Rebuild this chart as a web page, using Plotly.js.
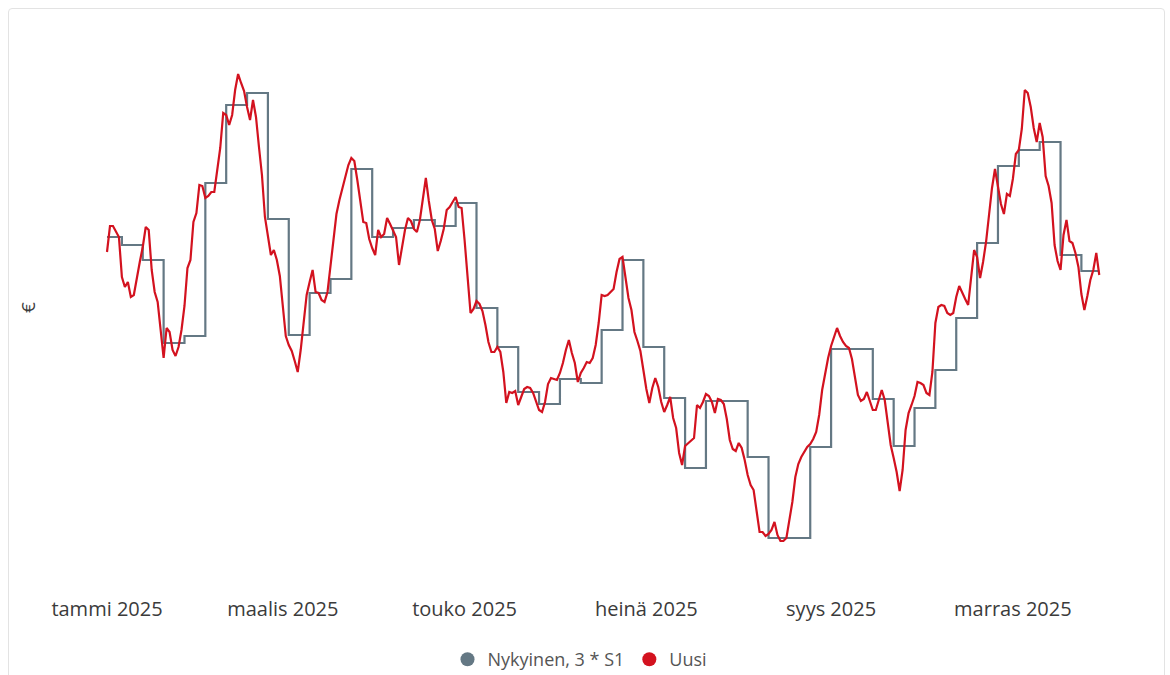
<!DOCTYPE html>
<html>
<head>
<meta charset="utf-8">
<script src="https://cdn.plot.ly/plotly-3.0.1.min.js"></script>
<style>
  html, body { margin: 0; padding: 0; background: #ffffff; }
  #wrap { position: relative; width: 1170px; height: 675px; overflow: hidden; }
  #frame { position: absolute; left: 8px; top: 8px; width: 1157px; height: 700px;
           border: 1px solid #e3e3e3; border-radius: 4px; box-sizing: border-box; }
  #chart { position: absolute; left: 0; top: 0; width: 1170px; height: 675px; }
</style>
</head>
<body>
<div id="wrap">
  <div id="frame"></div>
  <div id="chart"></div>
</div>
<script>
// ---- Data (€ values, daily, 2025) ----
const firstDay = '2025-01-01';

// "Uusi" – daily values, one small array per month
const uusiJan = [3.48,3.74,3.74,3.68,3.63,3.23,3.13,3.18,3.03,3.05,3.23,3.38,3.53,3.73,3.70,3.30,3.08,2.98,2.70,2.42,2.72,2.68,2.50,2.44,2.53,2.70,2.94,3.32,3.40,3.78,3.87];
const uusiFeb = [4.15,4.14,4.02,4.04,4.08,4.08,4.30,4.52,4.87,4.85,4.75,4.85,5.10,5.26,5.17,5.09,4.93,4.80,5.00,4.83,4.53,4.25,3.83,3.63,3.45,3.50,3.40,3.24];
const uusiMar = [2.95,2.64,2.55,2.49,2.39,2.28,2.50,2.78,3.05,3.18,3.30,3.08,3.07,3.00,2.98,3.08,3.35,3.61,3.86,4.00,4.12,4.24,4.35,4.42,4.39,4.20,3.98,3.78,3.77,3.61,3.52];
const uusiApr = [3.45,3.70,3.63,3.66,3.82,3.76,3.70,3.63,3.35,3.54,3.70,3.82,3.79,3.71,3.68,3.80,4.00,4.22,3.99,3.80,3.71,3.49,3.59,3.71,3.90,3.93,3.98,4.03,3.93,3.92];
const uusiMay = [3.60,3.21,2.87,2.91,2.99,2.96,2.89,2.75,2.58,2.48,2.48,2.53,2.48,2.28,1.97,2.08,2.07,2.09,1.95,2.03,2.11,2.13,2.12,2.07,1.98,1.90,1.88,1.98,2.16,2.22,2.21];
const uusiJun = [2.20,2.27,2.37,2.50,2.60,2.47,2.37,2.18,2.27,2.32,2.38,2.37,2.42,2.55,2.77,3.05,3.04,3.05,3.08,3.11,3.28,3.41,3.43,3.23,3.02,2.90,2.68,2.59,2.49,2.30];
const uusiJul = [2.11,1.97,2.12,2.22,2.13,1.98,1.88,1.95,2.03,1.82,1.72,1.47,1.35,1.54,1.57,1.60,1.62,1.95,1.92,1.98,2.06,2.04,1.98,1.87,2.01,2.00,1.96,1.81,1.60,1.51,1.49];
const uusiAug = [1.57,1.52,1.40,1.25,1.15,1.10,0.89,0.68,0.68,0.64,0.66,0.70,0.78,0.65,0.59,0.59,0.62,0.80,0.98,1.23,1.36,1.43,1.48,1.53,1.56,1.61,1.68,1.85,2.10,2.27,2.42];
const uusiSep = [2.54,2.62,2.72,2.64,2.58,2.54,2.52,2.41,2.25,2.05,1.99,2.01,2.08,2.00,1.90,1.90,2.00,2.10,2.00,1.77,1.55,1.42,1.28,1.09,1.30,1.70,1.87,1.95,2.04,2.18];
const uusiOct = [2.17,2.15,2.07,2.05,2.28,2.77,2.93,2.95,2.94,2.87,2.85,2.87,3.03,3.14,3.07,3.01,2.95,3.20,3.50,3.43,3.22,3.38,3.58,3.85,4.12,4.31,4.15,3.96,3.86,4.06,4.04];
const uusiNov = [4.21,4.46,4.50,4.71,5.10,5.07,4.93,4.72,4.58,4.77,4.63,4.24,4.14,3.97,3.55,3.39,3.30,3.65,3.80,3.59,3.57,3.47,3.33,3.06,2.90,3.04,3.20,3.30,3.47,3.25];

// "Nykyinen, 3 * S1" – weekly values (week start dates)
const weekStarts = ['2025-01-01','2025-01-06','2025-01-13','2025-01-20','2025-01-27',
  '2025-02-03','2025-02-10','2025-02-17','2025-02-24',
  '2025-03-03','2025-03-10','2025-03-17','2025-03-24','2025-03-31',
  '2025-04-07','2025-04-14','2025-04-21','2025-04-28',
  '2025-05-05','2025-05-12','2025-05-19','2025-05-26',
  '2025-06-02','2025-06-09','2025-06-16','2025-06-23','2025-06-30',
  '2025-07-07','2025-07-14','2025-07-21','2025-07-28',
  '2025-08-04','2025-08-11','2025-08-18','2025-08-25',
  '2025-09-01','2025-09-08','2025-09-15','2025-09-22','2025-09-29',
  '2025-10-06','2025-10-13','2025-10-20','2025-10-27',
  '2025-11-03','2025-11-10','2025-11-17','2025-11-24'];
const nykyinenWeekly = [3.63,3.55,3.40,2.57,2.64,
  4.17,4.95,5.07,3.81,
  2.65,3.07,3.21,4.31,3.63,
  3.72,3.80,3.74,3.97,
  2.92,2.53,2.08,1.96,
  2.21,2.17,2.70,3.40,2.53,
  2.02,1.32,1.99,1.99,
  1.43,0.62,0.62,1.53,
  2.51,2.51,2.01,1.54,1.92,
  2.30,2.82,3.57,4.34,
  4.50,4.58,3.45,3.29];

// Axis ticks
const tickDates = ['2025-01-01','2025-03-01','2025-05-01','2025-07-01','2025-09-01','2025-11-01'];
const tickLabels = ['tammi 2025','maalis 2025','touko 2025','heinä 2025','syys 2025','marras 2025'];

const seriesNames = ['Nykyinen, 3 * S1', 'Uusi'];
const seriesColors = ['#647884', '#d3121f'];

// ---- Build traces ----
const DAY = 86400000;
const t0 = Date.parse(firstDay + 'T00:00:00Z');
const uusi = [].concat(uusiJan, uusiFeb, uusiMar, uusiApr, uusiMay, uusiJun,
                       uusiJul, uusiAug, uusiSep, uusiOct, uusiNov);
const days = uusi.map((_, i) => new Date(t0 + i * DAY).toISOString().slice(0, 10));
const nykyinen = days.map(d => {
  let v = null;
  for (let k = 0; k < weekStarts.length; k++) { if (weekStarts[k] <= d) v = nykyinenWeekly[k]; }
  return v;
});

function fmt(ms) { return new Date(ms).toISOString().replace('T', ' ').slice(0, 19); }

const traces = [
  { x: days, y: nykyinen, type: 'scatter', mode: 'lines', name: seriesNames[0],
    line: { color: seriesColors[0], width: 2.2, shape: 'hv' }, showlegend: false, hoverinfo: 'x+y' },
  { x: days, y: uusi, type: 'scatter', mode: 'lines', name: seriesNames[1],
    line: { color: seriesColors[1], width: 2.2 }, showlegend: false, hoverinfo: 'x+y' },
  { x: [null], y: [null], type: 'scatter', mode: 'markers', name: seriesNames[0],
    marker: { color: seriesColors[0], size: 14, symbol: 'circle' }, showlegend: true },
  { x: [null], y: [null], type: 'scatter', mode: 'markers', name: seriesNames[1],
    marker: { color: seriesColors[1], size: 14, symbol: 'circle' }, showlegend: true }
];

const layout = {
  width: 1170, height: 675,
  margin: { l: 50, r: 60, t: 20, b: 80, autoexpand: false },
  paper_bgcolor: 'rgba(0,0,0,0)', plot_bgcolor: 'rgba(0,0,0,0)',
  font: { family: '"Open Sans", "Noto Sans", sans-serif', color: '#333333' },
  showlegend: true,
  xaxis: {
    type: 'date',
    range: [fmt(t0 - 19.13 * DAY), fmt(t0 + 336.6 * DAY)],
    tickvals: tickDates, ticktext: tickLabels,
    tickfont: { size: 20, color: '#3b3b3b' },
    showgrid: false, zeroline: false, showline: false, ticks: '',
    automargin: false
  },
  yaxis: {
    range: [0.05, 5.8],
    showticklabels: false, showgrid: false, zeroline: false, showline: false, ticks: '',
    title: { text: '€', font: { size: 19, color: '#3b3b3b' }, standoff: 8 },
    automargin: false
  },
  legend: {
    orientation: 'h', x: 0.5, xanchor: 'center', y: -0.08, yanchor: 'top',
    font: { size: 18, color: '#555555' }, itemwidth: 30, traceorder: 'normal',
    bgcolor: 'rgba(0,0,0,0)'
  }
};

Plotly.newPlot('chart', traces, layout, { displayModeBar: false, staticPlot: true });
</script>
</body>
</html>
